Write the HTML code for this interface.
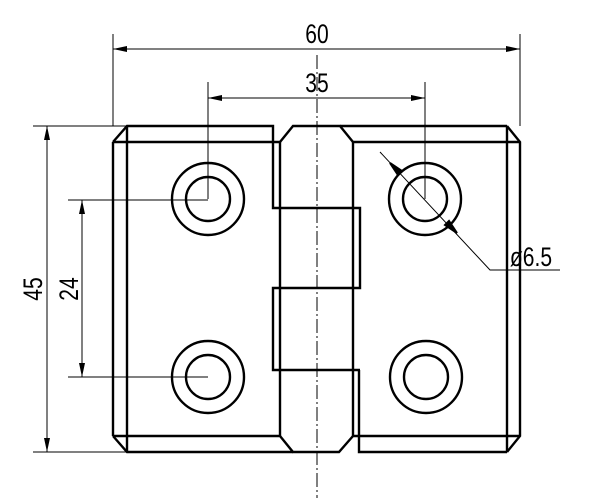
<!DOCTYPE html>
<html><head><style>body{margin:0;background:#fff}svg{display:block}</style></head><body>
<svg width="600" height="498" viewBox="0 0 600 498" xmlns="http://www.w3.org/2000/svg">
<defs>
<marker id="a" markerWidth="14" markerHeight="6" refX="14" refY="3" orient="auto" markerUnits="userSpaceOnUse"><path d="M0,0 L14,3 L0,6 Z" fill="#000"/></marker>
<marker id="b" markerWidth="14" markerHeight="6" refX="0" refY="3" orient="auto" markerUnits="userSpaceOnUse"><path d="M14,0 L0,3 L14,6 Z" fill="#000"/></marker>
</defs>
<g stroke="#000" stroke-width="1" fill="none">
<line x1="113" y1="34" x2="113" y2="126"/>
<line x1="520" y1="34" x2="520" y2="126"/>
<line x1="208" y1="82" x2="208" y2="199"/>
<line x1="425" y1="82" x2="425" y2="199"/>
<line x1="33" y1="126" x2="127" y2="126"/>
<line x1="33" y1="452" x2="127" y2="452"/>
<line x1="68" y1="200" x2="208" y2="200"/>
<line x1="68" y1="377" x2="208" y2="377"/>
<line x1="113" y1="49" x2="520" y2="49" marker-start="url(#b)" marker-end="url(#a)"/>
<line x1="208" y1="98" x2="425" y2="98" marker-start="url(#b)" marker-end="url(#a)"/>
<line x1="47" y1="126" x2="47" y2="452" marker-start="url(#b)" marker-end="url(#a)"/>
<line x1="82" y1="200" x2="82" y2="377" marker-start="url(#b)" marker-end="url(#a)"/>
<line x1="317" y1="55" x2="317" y2="498" stroke-dasharray="14,3,2,3"/>
<polyline points="380,152 490,270 560,270"/>
</g>
<path d="M390,163 L402,171 L398,175 Z M457,233 L445,225 L449,221 Z" fill="#000" stroke="#000" stroke-width="2"/>
<g stroke="#000" stroke-width="2.4" fill="none" stroke-linejoin="miter">
<path d="M113,142 L127,126 L273,126 L273,208 L360,208 L360,288 L273,288 L273,370 L360,370"/>
<line x1="113" y1="142" x2="113" y2="436"/>
<line x1="127" y1="126" x2="127" y2="452"/>
<line x1="113" y1="142" x2="280" y2="142"/>
<path d="M113,436 L127,452 L293,452"/>
<line x1="113" y1="436" x2="280" y2="436"/>
<path d="M280,142 L293,126 L340,126 L353,142"/>
<line x1="280" y1="142" x2="280" y2="436"/>
<line x1="353" y1="142" x2="353" y2="436"/>
<path d="M280,436 L293,452 L339,452 L353,436"/>
<line x1="340" y1="126" x2="507" y2="126"/>
<line x1="353" y1="142" x2="520" y2="142"/>
<path d="M507,126 L520,142 L520,436 L507,452"/>
<line x1="507" y1="126" x2="507" y2="452"/>
<path d="M359,370 L359,452 L507,452"/>
<line x1="353" y1="436" x2="520" y2="436"/>
<circle cx="208" cy="199" r="36"/><circle cx="208" cy="199" r="22"/>
<circle cx="208" cy="377" r="36"/><circle cx="208" cy="377" r="22"/>
<circle cx="425" cy="199" r="36"/><circle cx="425" cy="199" r="22"/>
<circle cx="426" cy="377" r="36"/><circle cx="426" cy="377" r="22"/>
</g>
<g font-family="Liberation Sans Narrow, Liberation Sans, sans-serif" font-size="27" fill="#000" text-anchor="middle">
<text transform="translate(317,43) scale(0.78,1)">60</text>
<text transform="translate(317,92) scale(0.78,1)">35</text>
<text transform="translate(531,266) scale(0.78,1)">ø6.5</text>
<text transform="translate(42,289) rotate(-90) scale(0.78,1)">45</text>
<text transform="translate(78,289) rotate(-90) scale(0.78,1)">24</text>
</g>
</svg>
</body></html>
